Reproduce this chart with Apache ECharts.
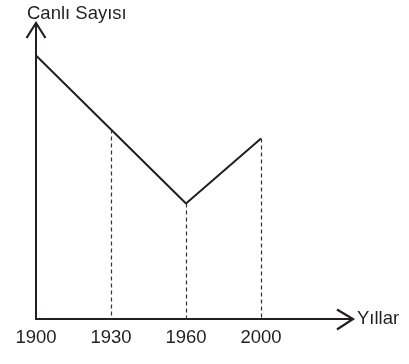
<!DOCTYPE html>
<html><head><meta charset="utf-8">
<script src="https://cdn.jsdelivr.net/npm/echarts@6/dist/echarts.min.js"></script>
<style>html,body{margin:0;padding:0;background:#fff}#c{width:409px;height:364px}</style>
</head><body><div id="c"></div>
<script>
// ---- data ----
const years = ['1900', '1930', '1960', '2000'];
const counts = [89, 64, 39, 61];
const yAxisTitle = 'Canlı Sayısı';
const xAxisTitle = 'Yıllar';

// ---- style ----
const INK = '#231f20';
const FONT = '"Liberation Sans", Arial, sans-serif';
const FS = 18.5;
const GL = 36, GT = 23, GR = 148, GB = 45;
const W = 409, H = 364;
const axisY = H - GB, axisRight = W - GR;

const chart = echarts.init(document.getElementById('c'), null, {renderer: 'canvas'});
chart.setOption({
  backgroundColor: '#fff',
  animation: false,
  title: {
    text: yAxisTitle, left: 27, top: 4, padding: 0,
    textStyle: {fontFamily: FONT, fontSize: FS, fontWeight: 'normal', color: INK}
  },
  grid: {left: GL, top: GT, right: GR, bottom: GB, containLabel: false},
  xAxis: {
    type: 'category', data: years, boundaryGap: false,
    name: xAxisTitle, nameLocation: 'end', nameGap: 96,
    nameTextStyle: {fontFamily: FONT, fontSize: FS, color: INK, align: 'left', verticalAlign: 'middle', padding: [2, 0, 0, 0]},
    axisLine: {show: true, lineStyle: {color: INK, width: 2}},
    axisTick: {show: false},
    axisLabel: {fontFamily: FONT, fontSize: FS, color: INK, margin: 9},
    splitLine: {show: false}
  },
  yAxis: {
    type: 'value', min: 0, max: 100,
    axisLine: {show: true, lineStyle: {color: INK, width: 2}},
    axisTick: {show: false}, axisLabel: {show: false}, splitLine: {show: false}
  },
  series: [{
    type: 'line', data: counts, symbol: 'none', z: 3,
    lineStyle: {color: INK, width: 2},
    markLine: {
      silent: true, symbol: 'none', label: {show: false}, animation: false,
      lineStyle: {type: [4, 3], width: 1.2, color: '#333'},
      emphasis: {disabled: true},
      data: years.slice(1).map((y, i) => [{coord: [y, counts[i + 1]]}, {coord: [y, 0]}])
    }
  }],
  graphic: [
    {type: 'line', shape: {x1: axisRight, y1: axisY, x2: 353, y2: axisY}, style: {stroke: INK, lineWidth: 2}, silent: true},
    {type: 'polyline', shape: {points: [[337, axisY - 9.5], [353, axisY], [337, axisY + 10.5]]}, style: {stroke: INK, lineWidth: 2.2, fill: null}, silent: true},
    {type: 'polyline', shape: {points: [[26.5, GT + 15], [GL, GT], [45.5, GT + 15]]}, style: {stroke: INK, lineWidth: 2.2, fill: null}, silent: true}
  ]
});
</script></body></html>
